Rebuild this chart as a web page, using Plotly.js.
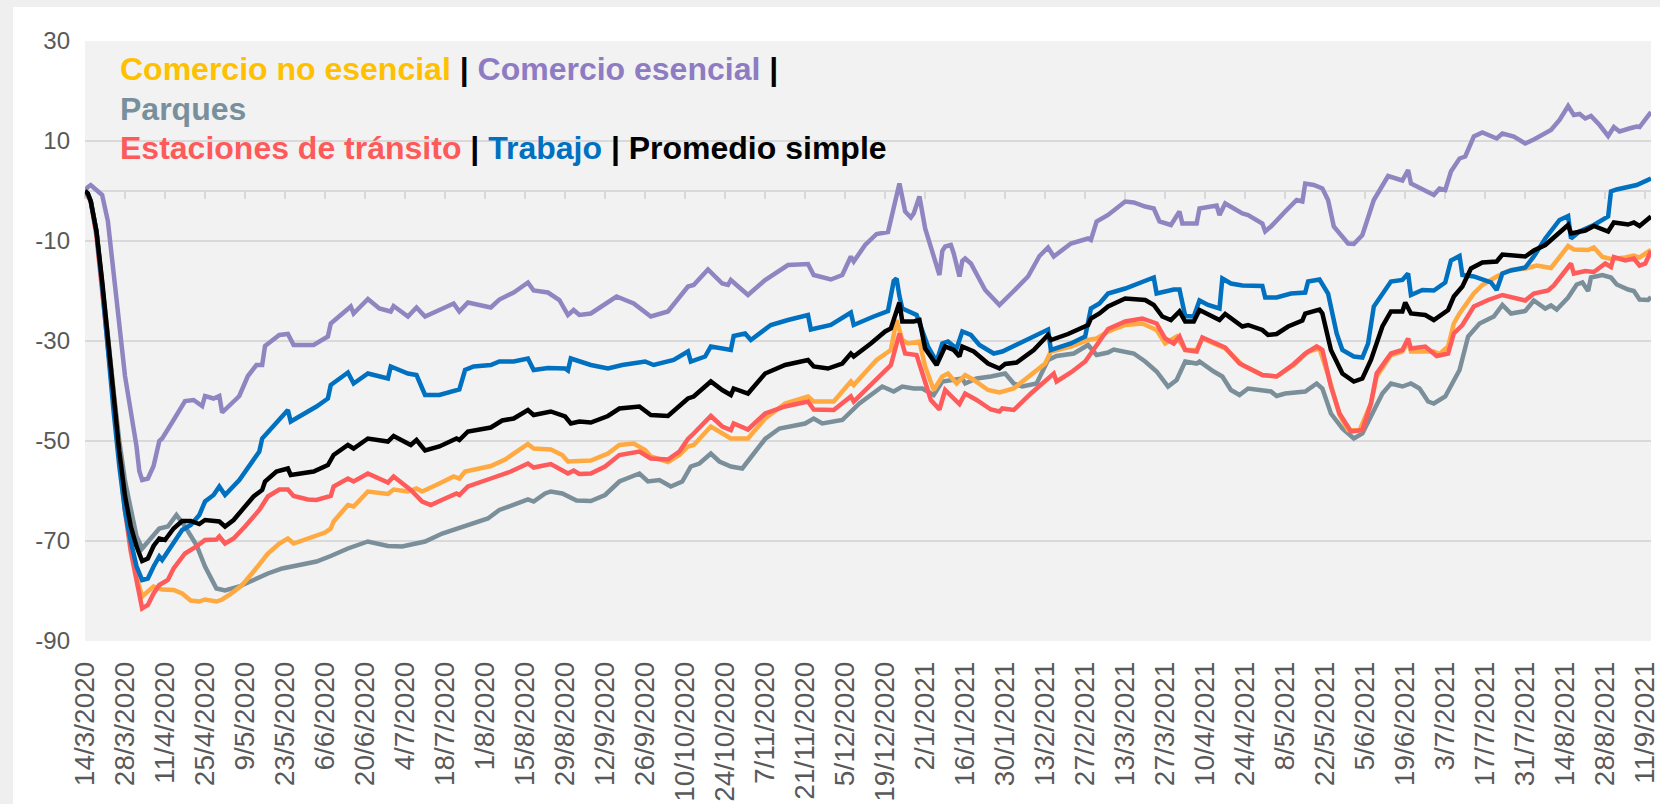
<!DOCTYPE html>
<html>
<head>
<meta charset="utf-8">
<script src="https://cdn.plot.ly/plotly-3.0.1.min.js"></script>
<style>
  html, body { margin: 0; padding: 0; background: #efefef; }
  #grafico { position: absolute; left: 13px; top: 7px; width: 1647px; height: 797px; background: #fff; }
</style>
</head>
<body>
<div id="grafico"></div>
<script>
// Datos: días desde 14/3/2020 y valor (% respecto a la línea base)
const fechaInicio = Date.UTC(2020, 2, 14);
const fechaFinDia = 548;

const etiquetasX = ['14/3/2020', '28/3/2020', '11/4/2020', '25/4/2020', '9/5/2020', '23/5/2020', '6/6/2020',
    '20/6/2020', '4/7/2020', '18/7/2020', '1/8/2020', '15/8/2020', '29/8/2020', '12/9/2020', '26/9/2020',
    '10/10/2020', '24/10/2020', '7/11/2020', '21/11/2020', '5/12/2020', '19/12/2020', '2/1/2021', '16/1/2021',
    '30/1/2021', '13/2/2021', '27/2/2021', '13/3/2021', '27/3/2021', '10/4/2021', '24/4/2021', '8/5/2021',
    '22/5/2021', '5/6/2021', '19/6/2021', '3/7/2021', '17/7/2021', '31/7/2021', '14/8/2021', '28/8/2021', '11/9/2021'];
const valoresY = [-90, -70, -50, -30, -10, 10, 30];
const etiquetasY = ['-90', '-70', '-50', '-30', '-10', '10', '30'];

// Comercio no esencial
const noEsencialDia = [0, 2, 4, 6, 8, 10, 12, 14, 16, 18, 20, 22, 24, 27, 31, 34, 37, 40, 42, 46, 48, 51, 55, 59, 64, 68, 71, 73, 79, 84, 86, 87, 92, 94, 99, 106, 108, 113, 116, 118, 124, 129, 131, 133, 142, 147, 155, 157, 163, 167, 169, 172, 177, 183, 187, 192, 196, 198, 204, 208, 211, 213, 219, 226, 232, 238, 245, 253, 255, 262, 268, 269, 277, 282, 284, 286, 288, 292, 294, 297, 300, 302, 305, 308, 311, 316, 320, 325, 330, 336, 338, 345, 351, 354, 358, 364, 370, 375, 378, 382, 385, 389, 391, 399, 405, 412, 417, 423, 428, 432, 435, 439, 442, 446, 450, 452, 457, 461, 463, 464, 472, 474, 477, 479, 481, 486, 489, 494, 499, 504, 508, 513, 519, 521, 526, 528, 531, 534, 539, 542, 544, 548];
const noEsencialVal = [0, -2, -8, -19, -31, -43, -54, -63, -71, -77, -81.1, -80.1, -79.1, -79.7, -79.8, -80.5, -81.9, -82.1, -81.7, -82.1, -81.7, -80.6, -78.8, -76.1, -72.5, -70.5, -69.5, -70.5, -69.3, -68.3, -67.5, -66.1, -62.8, -63.1, -60.1, -60.6, -59.7, -60.1, -59.5, -60.1, -58.5, -57.1, -57.5, -56.1, -55, -53.7, -50.6, -51.5, -51.7, -52.8, -54.1, -54.1, -53.9, -52.5, -50.8, -50.5, -51.8, -53.1, -54.2, -52.8, -51.1, -50.8, -47.1, -49.5, -49.5, -45.5, -42.5, -41.1, -42.1, -42.1, -38.1, -38.8, -33.8, -31.8, -25.8, -29.8, -30.5, -30.1, -35.1, -39.8, -37.1, -36.5, -38.5, -36.8, -37.8, -39.8, -40.3, -39.5, -37.1, -34.5, -32.1, -31.1, -29.8, -29.5, -28.1, -26.8, -26.5, -27.8, -30.5, -29.1, -31.8, -31.8, -29.5, -31.5, -34.8, -36.8, -37.1, -34.8, -32.1, -31.5, -36.8, -44.8, -47.8, -47.9, -42.5, -37.1, -32.8, -32.1, -30.1, -32.1, -32.1, -32.6, -31.1, -26.5, -24.5, -20.5, -18.8, -17.1, -15.8, -15.5, -14.9, -15.4, -11, -11.7, -11.8, -11.3, -13.2, -13.6, -13.3, -12.9, -13.3, -11.8];

// Comercio esencial
const esencialDia = [0, 1, 2, 4, 6, 8, 10, 12, 14, 16, 18, 19, 20, 22, 24, 26, 27, 31, 35, 38, 41, 42, 45, 47, 48, 54, 57, 60, 62, 63, 68, 71, 73, 80, 85, 86, 93, 94, 99, 103, 107, 108, 113, 116, 119, 124, 129, 131, 134, 142, 145, 150, 155, 157, 162, 166, 169, 171, 173, 177, 181, 186, 192, 196, 198, 204, 211, 213, 218, 223, 225, 226, 232, 238, 246, 253, 255, 261, 265, 268, 269, 273, 277, 281, 283, 285, 287, 289, 290, 292, 294, 297, 299, 300, 301, 303, 304, 306, 307, 308, 310, 315, 320, 325, 330, 334, 337, 339, 345, 351, 352, 354, 358, 364, 367, 371, 374, 376, 380, 383, 384, 389, 390, 396, 397, 399, 405, 407, 412, 413, 415, 420, 424, 426, 427, 430, 433, 435, 437, 442, 444, 447, 451, 456, 459, 461, 463, 464, 472, 474, 476, 478, 481, 483, 486, 489, 494, 496, 500, 504, 507, 509, 513, 516, 519, 521, 523, 525, 527, 530, 533, 535, 537, 541, 543, 544, 548];
const esencialVal = [0, 0.8, 1.2, 0.2, -0.8, -6, -17, -27, -37, -44, -51, -56, -57.8, -57.5, -55, -50, -49.5, -45.8, -42, -41.8, -43, -41, -41.5, -41, -44.3, -41, -37, -34.8, -34.8, -31, -28.8, -28.6, -30.8, -30.8, -29.1, -26.5, -23.1, -24.5, -21.6, -23.5, -24.1, -23, -25.1, -23.3, -25.1, -23.8, -22.5, -24.1, -22.3, -23.3, -21.7, -20.3, -18.3, -19.9, -20.3, -21.8, -24.8, -23.8, -24.8, -24.5, -23.1, -21.1, -22.5, -24.1, -25.1, -24.1, -19.1, -18.8, -15.7, -18.5, -18.8, -17.8, -20.8, -17.8, -14.8, -14.6, -16.8, -17.7, -16.8, -13.1, -14.1, -10.8, -8.6, -8.2, -3.5, 1.5, -4.1, -5.3, -4.5, -1.1, -7.5, -13, -16.8, -12, -11.1, -10.8, -12.5, -17.1, -14, -13.5, -14.5, -19.8, -22.8, -20, -17.1, -13, -11.3, -13.1, -10.5, -9.5, -9.8, -6.1, -4.8, -2.1, -2.3, -3.1, -3.5, -6.1, -6.8, -4.1, -6.5, -6.5, -3.5, -2.9, -4.8, -2.5, -4.5, -4.8, -6.5, -8.1, -7.1, -4.1, -1.8, -2.1, 1.5, 1.2, 0.5, -1.8, -7.1, -10.5, -10.6, -8.8, -1.8, 3, 2.5, 2.1, 4.2, 1.5, -0.8, 0.5, 0.2, 3.9, 6.5, 6.9, 10.9, 11.7, 10.5, 11.5, 10.9, 9.5, 10.3, 10.9, 12.2, 14.2, 17, 15.2, 15.4, 14.5, 15, 13.2, 11, 12.8, 11.9, 12.6, 12.9, 12.8, 15.8];

// Parques
const parquesDia = [0, 2, 4, 6, 8, 10, 12, 14, 16, 18, 20, 22, 26, 29, 32, 35, 39, 42, 46, 49, 54, 59, 64, 69, 75, 81, 86, 92, 99, 106, 111, 119, 125, 130, 136, 141, 145, 150, 155, 157, 161, 163, 167, 172, 177, 182, 187, 194, 197, 201, 205, 209, 212, 215, 219, 222, 226, 230, 234, 238, 243, 252, 255, 258, 265, 271, 279, 283, 286, 290, 293, 297, 300, 303, 307, 308, 312, 317, 322, 325, 328, 333, 337, 340, 346, 351, 354, 358, 360, 367, 371, 375, 379, 382, 385, 389, 390, 395, 398, 401, 404, 407, 415, 417, 420, 427, 431, 433, 436, 440, 444, 447, 451, 454, 457, 461, 464, 467, 470, 472, 476, 479, 481, 484, 488, 493, 496, 499, 504, 507, 511, 513, 515, 519, 522, 524, 526, 527, 531, 534, 536, 540, 542, 544, 547, 548];
const parquesVal = [0, -2, -8, -18, -29, -40, -50, -58, -64, -69, -71.5, -70.1, -67.5, -67.1, -64.8, -67.1, -70.8, -75.1, -79.5, -79.9, -79.1, -77.8, -76.5, -75.5, -74.8, -74.1, -73, -71.5, -70.1, -71, -71.1, -70.1, -68.5, -67.5, -66.5, -65.5, -63.8, -62.8, -61.7, -62.1, -60.5, -60.1, -60.5, -61.9, -62, -60.8, -58.1, -56.5, -58.1, -57.8, -59.1, -58.1, -55.1, -54.5, -52.5, -54.1, -55.1, -55.5, -52.5, -49.6, -47.5, -46.5, -45.5, -46.5, -45.8, -42.5, -39.1, -40.1, -39.1, -39.5, -39.5, -40.8, -38.1, -37.8, -37.5, -38.5, -37.5, -37.1, -36.5, -38.5, -39.1, -38.5, -33.8, -33, -32.5, -30.8, -32.8, -32.3, -31.7, -32.5, -34.1, -36.1, -39.1, -37.8, -34.1, -34.5, -34.1, -36.1, -37.1, -39.8, -40.8, -39.5, -40.1, -41, -40.5, -40.1, -38.5, -39.5, -44.5, -47.5, -49.5, -48.5, -43.8, -40.5, -38.5, -39.1, -38.5, -39.5, -42.1, -42.5, -41.1, -37.8, -35.8, -29.1, -26.5, -25.1, -22.8, -24.5, -24, -21.9, -23.5, -22.9, -23.7, -21.3, -18.7, -18.3, -20, -17.3, -16.8, -17.3, -18.7, -19.7, -20, -21.7, -21.8, -21.2];

// Estaciones de tránsito
const transitoDia = [0, 2, 4, 6, 8, 10, 12, 14, 16, 18, 20, 22, 24, 26, 29, 31, 35, 39, 42, 46, 47, 49, 52, 56, 61, 64, 68, 71, 73, 78, 81, 86, 87, 92, 94, 99, 104, 106, 108, 114, 118, 121, 126, 130, 131, 134, 142, 149, 155, 157, 163, 169, 171, 173, 177, 182, 187, 194, 198, 204, 208, 211, 213, 219, 223, 226, 227, 232, 238, 245, 253, 255, 262, 268, 269, 275, 280, 282, 285, 287, 291, 294, 296, 299, 301, 304, 306, 308, 312, 317, 320, 321, 325, 331, 336, 339, 340, 345, 350, 352, 355, 358, 364, 370, 375, 378, 381, 383, 385, 389, 391, 399, 404, 412, 417, 423, 427, 431, 433, 436, 439, 443, 447, 450, 452, 457, 461, 463, 464, 469, 473, 477, 479, 482, 486, 491, 496, 500, 504, 507, 512, 514, 520, 521, 525, 528, 532, 534, 535, 539, 542, 544, 546, 548];
const transitoVal = [0, -2, -9, -20, -32, -44, -55, -64, -72, -78, -83.5, -82.8, -80.5, -78.8, -77.8, -75.5, -72.5, -71.1, -69.8, -69.7, -69.1, -70.5, -69.5, -67.1, -63.8, -61.1, -59.7, -59.7, -61, -61.7, -61.8, -61, -59.1, -57.5, -58.1, -56.5, -57.8, -58.3, -57.1, -59.8, -62.1, -62.8, -61.5, -60.5, -60.8, -59.1, -57.5, -56.1, -54.5, -55.3, -54.6, -56.5, -55.9, -56.6, -56.5, -55.1, -52.8, -52.1, -53.5, -53.7, -52.1, -49.6, -48.5, -45, -47.1, -47.8, -46.5, -47.7, -44.5, -43.1, -42.1, -43.7, -43.8, -41.1, -42.1, -38.8, -36.1, -34.8, -28.5, -32.5, -32.8, -38.5, -41.8, -43.7, -39.8, -41.5, -42.6, -40.5, -41.8, -43.7, -44.1, -43.5, -43.8, -40.5, -38.1, -36.5, -38.1, -36.3, -34.1, -32.5, -30, -27.6, -26.1, -25.5, -26.5, -29.5, -30.5, -29.1, -31.8, -32.1, -29.3, -31.3, -34.5, -36.8, -37.1, -34.6, -32.5, -31.1, -31.8, -39.1, -44.5, -48.1, -47.8, -42.5, -36.5, -32.5, -31.8, -29.5, -31.5, -31.1, -33, -32.5, -28.5, -26.8, -23.1, -21.8, -20.8, -21.3, -21.9, -20.5, -19.9, -18.9, -14.5, -16.5, -16, -16.2, -14.5, -15.2, -13.2, -13.9, -13.5, -14.9, -14.5, -12];

// Trabajo
const trabajoDia = [0, 1, 2, 4, 6, 8, 10, 12, 14, 16, 18, 20, 22, 24, 26, 27, 30, 34, 37, 40, 42, 45, 47, 49, 54, 59, 61, 62, 68, 71, 72, 78, 81, 85, 86, 92, 94, 99, 106, 107, 113, 116, 119, 124, 129, 131, 133, 136, 142, 145, 150, 155, 157, 162, 168, 169, 170, 177, 183, 188, 196, 199, 206, 211, 212, 217, 219, 226, 227, 231, 233, 240, 246, 253, 254, 261, 268, 269, 276, 281, 283, 284, 285, 286, 291, 295, 298, 300, 302, 305, 307, 310, 313, 318, 321, 327, 333, 337, 338, 345, 350, 352, 355, 358, 364, 370, 374, 375, 381, 383, 385, 388, 390, 393, 397, 398, 401, 405, 412, 413, 417, 422, 427, 428, 432, 435, 438, 440, 444, 447, 449, 451, 455, 457, 461, 463, 464, 468, 472, 476, 478, 481, 482, 486, 492, 494, 496, 499, 504, 507, 511, 516, 519, 520, 523, 528, 533, 534, 536, 540, 543, 548];
const trabajoVal = [0, -0.5, -2, -8, -19, -32, -44, -55, -64, -70, -75, -77.8, -77.5, -75.1, -73.1, -73.8, -71.1, -67.8, -66.8, -64.8, -62.1, -60.8, -59.1, -60.8, -57.8, -53.8, -52.1, -49.5, -45.5, -43.8, -46.1, -44.1, -43.1, -41.5, -38.8, -36.3, -38.5, -36.5, -37.5, -35.1, -36.5, -36.8, -40.8, -40.8, -39.9, -39.7, -35.8, -35.1, -34.8, -34.1, -34.1, -33.5, -35.8, -35.4, -35.5, -35.9, -33.5, -34.8, -35.5, -34.8, -34.1, -34.8, -33.8, -32.1, -34.1, -33.1, -31.1, -31.8, -29, -28.5, -29.8, -26.8, -25.8, -24.8, -27.7, -26.8, -24.3, -26.8, -25.1, -24, -18, -17.5, -21, -23.5, -24.8, -31.1, -34.1, -30.5, -30.1, -31.5, -28.1, -28.8, -30.8, -32.5, -32.1, -30.5, -28.8, -27.7, -31.8, -30.5, -29.1, -23.5, -22.5, -20.5, -19.5, -18.2, -17.3, -20.5, -19.7, -19.7, -25, -25.1, -21.9, -22.8, -23.5, -17.5, -18.5, -18.9, -19, -21.3, -21.3, -20.5, -20.3, -18.1, -17.7, -20.5, -28.5, -31.8, -33.1, -33.3, -30.5, -23.1, -19.8, -18.1, -17.8, -16.5, -20.8, -19.8, -19.9, -18.3, -13.9, -13, -16.8, -17.1, -18.3, -19.8, -16.5, -15.9, -15.3, -13.1, -9.5, -5.8, -5, -9.5, -8.1, -6.8, -5.1, -0.1, 0.3, 0.7, 1.2, 2.5];

// Promedio simple
const promedioDia = [0, 1, 2, 4, 6, 8, 10, 12, 14, 16, 18, 20, 22, 24, 26, 28, 31, 34, 37, 40, 42, 47, 49, 52, 56, 59, 62, 63, 67, 71, 72, 80, 85, 87, 92, 94, 99, 106, 108, 114, 116, 119, 124, 130, 131, 134, 142, 146, 150, 155, 157, 163, 168, 170, 173, 177, 183, 187, 194, 198, 204, 211, 213, 219, 223, 226, 227, 232, 238, 245, 253, 255, 260, 265, 268, 269, 275, 280, 282, 285, 286, 290, 292, 294, 298, 301, 304, 306, 307, 311, 316, 320, 322, 326, 332, 337, 338, 344, 351, 352, 355, 358, 364, 371, 374, 377, 380, 383, 385, 388, 390, 397, 399, 405, 407, 412, 414, 417, 421, 426, 427, 432, 433, 436, 440, 444, 447, 450, 454, 457, 461, 462, 464, 469, 472, 477, 479, 482, 485, 489, 494, 496, 504, 507, 511, 515, 519, 520, 525, 528, 533, 535, 540, 542, 544, 548];
const promedioVal = [0, -0.5, -2, -8, -18, -30, -41, -52, -61, -67, -71, -74, -73.5, -71, -69.5, -69.8, -67.5, -66, -66, -66.6, -65.8, -66.1, -67.1, -65.8, -63.1, -61.1, -59.8, -58.1, -56.1, -55.5, -56.8, -56.1, -54.8, -52.8, -50.8, -51.5, -49.5, -50.1, -49, -50.8, -49.8, -51.9, -51.1, -49.5, -49.8, -48.1, -47.3, -45.9, -45.5, -43.8, -44.8, -44.1, -45.1, -46.5, -46.1, -46.3, -45, -43.5, -43.1, -44.8, -45, -41.5, -41.1, -38.1, -39.8, -40.8, -39.5, -40.5, -36.5, -34.8, -33.8, -35.1, -35.5, -34.5, -32.5, -33.1, -30.5, -28.1, -27.5, -22.3, -26.1, -26.1, -25.8, -31.5, -34.8, -31.1, -31.8, -33.1, -31.1, -32.1, -34.5, -35.5, -34.6, -34.3, -31.8, -28.8, -29.8, -28.6, -26.8, -25.5, -24.5, -23.1, -21.5, -21.8, -22.8, -25.1, -25.8, -24.1, -26.1, -26.1, -23.8, -25.8, -24.6, -27.1, -26.8, -27.8, -28.8, -28.6, -27.1, -25.9, -24.5, -23.7, -24.5, -31.8, -36.5, -38.1, -37.5, -33.8, -27.1, -24.1, -24.1, -22.3, -24.5, -24.8, -25.8, -23.8, -21.1, -19.1, -15.5, -14.3, -14.1, -12.7, -13.1, -11.9, -10.8, -8.8, -6.8, -8.5, -7.9, -7, -8.1, -6.3, -6.7, -6.3, -7, -5.1];

// Convierte días desde el inicio en fecha ISO
function diaAFecha(d) {
    return new Date(fechaInicio + d * 86400000).toISOString().slice(0, 10);
}

function etiquetaAFecha(txt) {
    const [d, m, a] = txt.split('/');
    return a + '-' + m.padStart(2, '0') + '-' + d.padStart(2, '0');
}

const posicionesX = etiquetasX.map(etiquetaAFecha);

function serie(nombre, dias, valores, color, eje) {
    return {
        x: dias.map(diaAFecha),
        y: valores,
        name: nombre,
        type: 'scatter',
        mode: 'lines',
        xaxis: eje || 'x',
        line: { color: color, width: 4.5 },
        hoverinfo: 'x+y+name'
    };
}

const trazas = [
    serie('Parques', parquesDia, parquesVal, '#7A8F99'),
    serie('Comercio no esencial', noEsencialDia, noEsencialVal, '#FFA940'),
    serie('Comercio esencial', esencialDia, esencialVal, '#9085C0'),
    serie('Estaciones de tránsito', transitoDia, transitoVal, '#FF5B5B'),
    serie('Trabajo', trabajoDia, trabajoVal, '#0070C0'),
    serie('Promedio simple', promedioDia, promedioVal, '#000000', 'x2')
];

const fuente = 'Liberation Sans, Arial, sans-serif';
const sep = '<span style="color:#000000"> | </span>';

const leyenda = [
    '<span style="color:#FFC000">Comercio no esencial</span>' + sep +
        '<span style="color:#8E7CC3">Comercio esencial</span><span style="color:#000000"> |</span>',
    '<span style="color:#78909C">Parques</span>',
    '<span style="color:#FF5A5A">Estaciones de tránsito</span>' + sep +
        '<span style="color:#0070C0">Trabajo</span>' + sep +
        '<span style="color:#000000">Promedio simple</span>'
];
const leyendaY = [0.9525, 0.8867, 0.8225];

const rangoX = [diaAFecha(0), diaAFecha(fechaFinDia)];

const layout = {
    width: 1647,
    height: 797,
    margin: { l: 72, r: 9, t: 34, b: 163 },
    paper_bgcolor: '#ffffff',
    plot_bgcolor: '#f2f2f2',
    showlegend: false,
    font: { family: fuente, color: '#595959' },
    xaxis: {
        type: 'date',
        range: rangoX,
        tickvals: posicionesX,
        ticktext: etiquetasX,
        tickangle: -90,
        ticks: '',
        showgrid: false,
        showline: false,
        zeroline: false,
        ticklabelstandoff: 14,
        ticklabeloverflow: 'allow',
        tickfont: { size: 28, color: '#595959', family: fuente }
    },
    xaxis2: {
        type: 'date',
        overlaying: 'x',
        matches: 'x',
        anchor: 'free',
        position: 0.75,
        side: 'bottom',
        layer: 'below traces',
        tickvals: posicionesX,
        showticklabels: false,
        ticks: 'outside',
        ticklen: 7,
        tickwidth: 2,
        tickcolor: '#d9d9d9',
        showline: true,
        linecolor: '#d9d9d9',
        linewidth: 2,
        showgrid: false,
        zeroline: false
    },
    yaxis: {
        range: [-90, 30],
        tickvals: valoresY,
        ticktext: etiquetasY,
        ticks: '',
        showgrid: true,
        gridcolor: '#d9d9d9',
        gridwidth: 2,
        zeroline: false,
        showline: false,
        ticklabelstandoff: 14,
        tickfont: { size: 24, color: '#595959', family: fuente }
    },
    annotations: leyenda.map((txt, i) => ({
        text: '<b>' + txt + '</b>',
        xref: 'paper',
        yref: 'paper',
        x: 0,
        y: leyendaY[i],
        xanchor: 'left',
        yanchor: 'middle',
        xshift: 33,
        showarrow: false,
        font: { size: 32, family: fuente }
    }))
};

Plotly.newPlot('grafico', trazas, layout, { displayModeBar: false, staticPlot: true });
</script>
</body>
</html>
